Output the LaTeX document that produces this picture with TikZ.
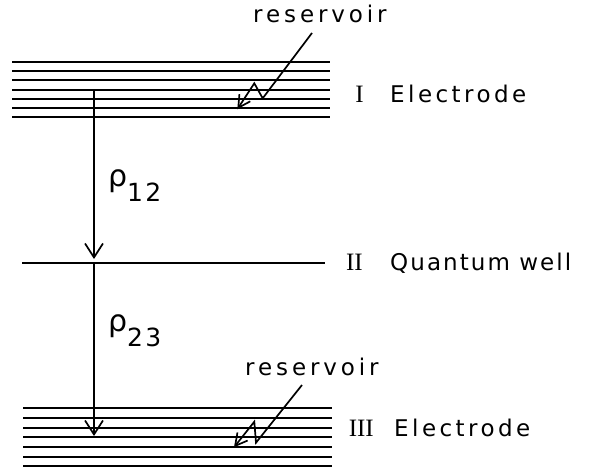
\documentclass[tikz,border=0pt]{standalone}
\usepackage{fontspec}
\setmainfont{DejaVu Sans}
\newfontfamily\labfont{DejaVu Sans}[LetterSpace=9]
\newfontfamily\labfontw{DejaVu Sans}[LetterSpace=15]
\newfontfamily\labfontr{DejaVu Sans}[LetterSpace=17]
\newfontfamily\romfont{Liberation Serif}
\usetikzlibrary{arrows.meta}
\begin{document}
\begin{tikzpicture}[x=1pt,y=-1pt,
  level/.style={line width=2.1pt},
  trans/.style={line width=1.7pt,-{Straight Barb[length=14pt,width=18pt,line width=1.7pt]}},
  resarrow/.style={line width=1.7pt,line join=miter,-{Straight Barb[length=12pt,width=13pt,line width=1.7pt]}},
  lab/.style={inner sep=0pt,font=\fontsize{23}{26}\selectfont\labfont},
  labw/.style={inner sep=0pt,font=\fontsize{23}{26}\selectfont\labfontw},
  labr/.style={inner sep=0pt,font=\fontsize{23}{26}\selectfont\labfontr},
  rom/.style={inner sep=0pt,font=\fontsize{25}{28}\selectfont\romfont}]
\useasboundingbox (0,0) rectangle (600,471);
% top electrode
\foreach \y in {61.7,71,80,90,99,108,117}{\draw[level] (12,\y) -- (330,\y);}
% quantum well
\coordinate (wl) at (22,262.7);
\coordinate (wr) at (325,262.7);
\draw[level] (wl) -- (wr);
% bottom electrode
\foreach \y in {408,418,428,437,447,457,466}{\draw[level] (23,\y) -- (332,\y);}
% transitions
\coordinate (s1) at (94,90);
\coordinate (t1) at (94,259);
\coordinate (s2) at (94,263);
\coordinate (t2) at (94,436);
\draw[trans] (s1) -- (t1);
\draw[trans] (s2) -- (t2);
% rho labels
\node[lab,anchor=base west] (r12) at (108,186) {\fontsize{30}{30}\selectfont ρ\raisebox{-15pt}{\fontsize{25}{28}\selectfont 12}};
\node[lab,anchor=base west] (r23) at (108,331) {\fontsize{30}{30}\selectfont ρ\raisebox{-15pt}{\fontsize{25}{28}\selectfont 23}};
% reservoir labels and arrows
\node[labr,anchor=base west] (res1) at (253,22) {reservoir};
\node[labr,anchor=base west] (res2) at (245,375) {reservoir};
\coordinate (a1) at (312,33);
\coordinate (a1k) at (262.7,98.3);
\coordinate (a1p) at (254.3,83.3);
\coordinate (a1t) at (237.3,109.3);
\draw[resarrow] (a1) -- (a1k) -- (a1p) -- (a1t);
\coordinate (a2) at (302,385);
\coordinate (a2k) at (256,442.7);
\coordinate (a2p) at (254.3,421.7);
\coordinate (a2t) at (234,447.3);
\draw[resarrow] (a2) -- (a2k) -- (a2p) -- (a2t);
% level labels
\node[rom,anchor=base east] (n1) at (364,102) {I};
\node[labw,anchor=base west] (l1) at (390,102) {Electrode};
\node[rom,anchor=base east] (n2) at (363,270) {II};
\node[lab,anchor=base west] (l2) at (390,270) {Quantum well};
\node[rom,anchor=base east] (n3) at (374,436) {III};
\node[labw,anchor=base west] (l3) at (394,436) {Electrode};
\end{tikzpicture}
\end{document}
